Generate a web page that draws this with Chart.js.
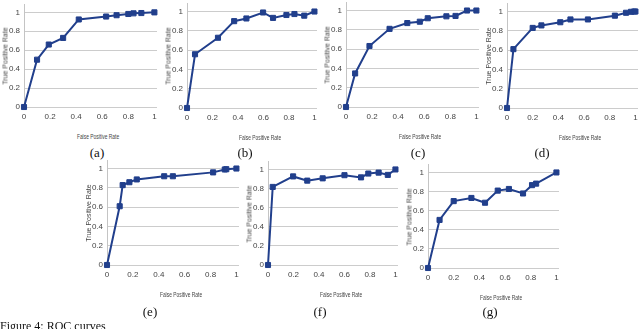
<!DOCTYPE html>
<html><head><meta charset="utf-8">
<script src="https://cdn.jsdelivr.net/npm/chart.js@4.4.1/dist/chart.umd.min.js"></script>
<style>
html,body{margin:0;padding:0;background:#fff;width:640px;height:329px;overflow:hidden}
body{position:relative}
canvas{position:absolute}
.xt{position:absolute;font:7px "Liberation Sans",Arial,sans-serif;color:#444;white-space:nowrap;transform:translate(-50%,-50%) scaleX(0.7)}
.yt{position:absolute;font:7px "Liberation Sans",Arial,sans-serif;color:#444;white-space:nowrap;transform:translate(-50%,-50%) rotate(-90deg)}
.sub{position:absolute;font:13px "Liberation Serif","Times New Roman",serif;color:#111;white-space:nowrap;transform:translate(-50%,-50%)}
.cap{position:absolute;left:0;top:320px;font:12px/12px "Liberation Serif","Times New Roman",serif;color:#111;white-space:nowrap}
</style>
</head><body>
<script>
// ---- data ----
const panelLabels = ['(a)','(b)','(c)','(d)','(e)','(f)','(g)'];
const xAxisTitle = 'False Positive Rate';
const yAxisTitle = 'True Positive Rate';
const captionText = 'Figure 4: ROC curves';

const fprA = [0, 0.10, 0.19, 0.30, 0.42, 0.63, 0.71, 0.80, 0.84, 0.90, 1];
const tprA = [0, 0.50, 0.66, 0.73, 0.925, 0.956, 0.97, 0.983, 0.99, 0.993, 1];

const fprB = [0, 0.063, 0.243, 0.37, 0.466, 0.597, 0.675, 0.78, 0.843, 0.92, 1];
const tprB = [0, 0.557, 0.728, 0.90, 0.928, 0.99, 0.934, 0.964, 0.974, 0.957, 1];

const fprC = [0, 0.07, 0.18, 0.334, 0.47, 0.566, 0.627, 0.77, 0.84, 0.928, 1];
const tprC = [0, 0.348, 0.632, 0.81, 0.87, 0.884, 0.92, 0.94, 0.944, 1.0, 1];

const fprD = [0, 0.05, 0.20, 0.268, 0.415, 0.494, 0.63, 0.84, 0.927, 0.966, 0.99, 1];
const tprD = [0, 0.61, 0.83, 0.856, 0.889, 0.918, 0.918, 0.957, 0.987, 0.997, 1, 1];

const fprE = [0, 0.098, 0.121, 0.173, 0.23, 0.442, 0.509, 0.82, 0.91, 0.922, 1];
const tprE = [0, 0.609, 0.828, 0.858, 0.887, 0.92, 0.92, 0.96, 0.99, 0.993, 1];

const fprF = [0, 0.037, 0.197, 0.308, 0.429, 0.60, 0.73, 0.787, 0.868, 0.94, 1];
const tprF = [0, 0.817, 0.927, 0.883, 0.907, 0.94, 0.917, 0.957, 0.967, 0.943, 1];

const fprG = [0, 0.09, 0.20, 0.338, 0.444, 0.543, 0.63, 0.74, 0.81, 0.842, 1];
const tprG = [0, 0.503, 0.70, 0.733, 0.683, 0.81, 0.827, 0.78, 0.867, 0.883, 1];

const seriesX = [fprA, fprB, fprC, fprD, fprE, fprF, fprG];
const seriesY = [tprA, tprB, tprC, tprD, tprE, tprF, tprG];

// ---- layout (pixel geometry of each panel; not data) ----
const panels = [
  {x0:24,  ux:130, y0:107, uy:99,  sub:[97,153]},
  {x0:187, ux:127, y0:108, uy:101, sub:[245,153]},
  {x0:346, ux:130, y0:107, uy:101, sub:[418,153]},
  {x0:507, ux:128, y0:108, uy:101, sub:[542,153]},
  {x0:107, ux:129, y0:265, uy:101, sub:[150,312]},
  {x0:268, ux:127, y0:265, uy:100, sub:[320,312]},
  {x0:428, ux:128, y0:268, uy:100, sub:[490,312]}
];
const XMAX = 1.02, YMAX = 1.08;
const YW = 30, XH = 18, PT = 4, PR = 6;
const lineColor = '#213f8c';
const gridColor = '#cccccc';
const tickFont = {family:'"Liberation Sans",Arial,sans-serif', size:8};
const fmt = v => String(+Number(v).toFixed(1));

function addDiv(cls, text, x, y){
  const d = document.createElement('div');
  d.className = cls; d.textContent = text;
  d.style.left = x + 'px'; d.style.top = y + 'px';
  document.body.appendChild(d);
}

panels.forEach((p, i) => {
  const w = Math.round(XMAX * p.ux);
  const h = Math.round(YMAX * p.uy);
  const top = p.y0 - h;
  const cv = document.createElement('canvas');
  const cw = YW + w + PR, ch = PT + h + XH;
  cv.width = cw; cv.height = ch;
  cv.style.width = cw + 'px'; cv.style.height = ch + 'px';
  cv.style.left = (p.x0 - YW) + 'px';
  cv.style.top = (top - PT) + 'px';
  document.body.appendChild(cv);

  const pts = seriesX[i].map((x, k) => ({x: x, y: seriesY[i][k]}));
  new Chart(cv, {
    type: 'scatter',
    data: {datasets: [{
      data: pts, showLine: true, clip: 8,
      borderColor: lineColor, backgroundColor: lineColor,
      borderWidth: 2, pointStyle: 'rect', pointRadius: 3.6,
      pointBorderWidth: 1, pointBorderColor: lineColor
    }]},
    options: {
      responsive: false, animation: false, devicePixelRatio: 1,
      layout: {padding: {left: 0, top: PT, right: PR, bottom: 0}},
      plugins: {legend: {display: false}, tooltip: {enabled: false}},
      scales: {
        x: {
          type: 'linear', min: 0, max: XMAX,
          afterFit: s => { s.height = XH; },
          grid: {display: false, drawTicks: false},
          border: {display: false},
          ticks: {stepSize: 0.2, includeBounds: false, autoSkip: false, maxRotation: 0,
                  padding: 5, color: '#444', font: tickFont, callback: fmt}
        },
        y: {
          type: 'linear', min: 0, max: YMAX,
          afterFit: s => { s.width = YW; },
          grid: {color: gridColor, lineWidth: 1, drawTicks: false},
          border: {display: true, color: '#c4c4c4', width: 1},
          ticks: {stepSize: 0.2, includeBounds: false, autoSkip: false,
                  padding: 4, color: '#444', font: tickFont, callback: fmt}
        }
      }
    }
  });

  addDiv('xt', xAxisTitle, p.x0 + p.ux / 2 + 9, p.y0 + 28.5);
  addDiv('yt', yAxisTitle, p.x0 - 19, p.y0 - p.uy / 2 - 1.5);
  addDiv('sub', panelLabels[i], p.sub[0], p.sub[1]);
});

const cap = document.createElement('div');
cap.className = 'cap'; cap.textContent = captionText;
document.body.appendChild(cap);
</script>
</body></html>
